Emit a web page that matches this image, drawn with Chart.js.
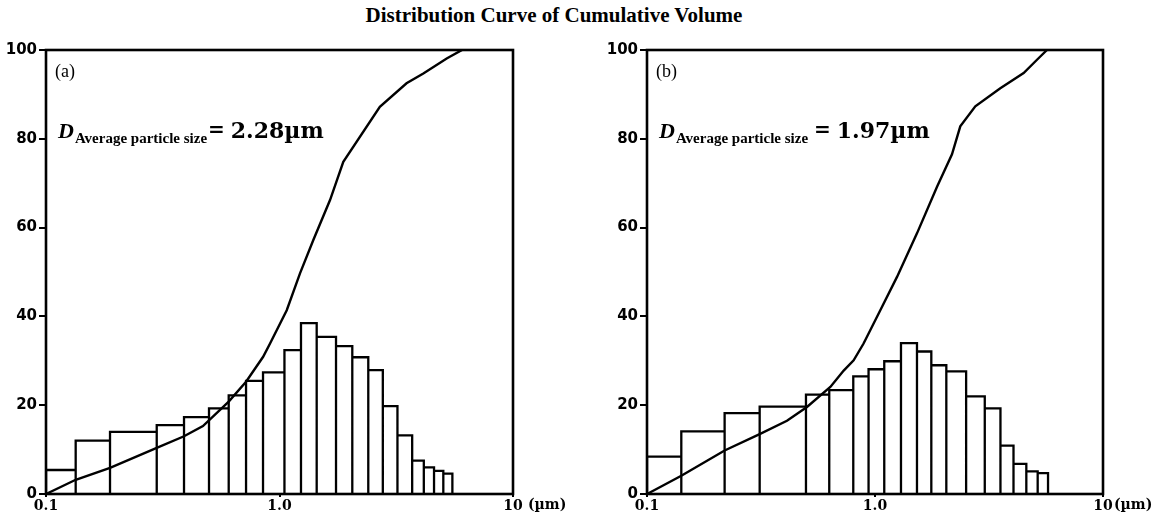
<!DOCTYPE html>
<html>
<head>
<meta charset="utf-8">
<script src="https://cdn.jsdelivr.net/npm/chart.js@4"></script>
<style>
  body { margin: 0; background: #fff; }
  #wrap { position: relative; width: 1163px; height: 519px; overflow: hidden; }
  #title { position: absolute; left: 0; top: 3px; width: 1108px; text-align: center;
           font: bold 21px "Liberation Serif", serif; color: #000; }
  .panel { position: absolute; top: 0; }
</style>
</head>
<body>
<div id="wrap">
  <div id="title">Distribution Curve of Cumulative Volume</div>
  <canvas id="chartA" class="panel" style="left:0px" width="580" height="519"></canvas>
  <canvas id="chartB" class="panel" style="left:580px" width="583" height="519"></canvas>
</div>
<script>
// tick values
const yTicks = [0, 20, 40, 60, 80, 100];
const xTicks = [0.1, 1, 10];
const xTickLabels = ['0.1', '1.0', '10'];

// panel (a): bar edges (um), bar heights, cumulative curve
const edgesA = [0.1, 0.134, 0.188, 0.298, 0.39, 0.499, 0.606, 0.719, 0.85, 1.05, 1.236, 1.443, 1.746, 2.05, 2.4, 2.77, 3.2, 3.7, 4.15, 4.59, 5.03, 5.5];
const heightsA = [5.4, 12.0, 14.0, 15.5, 17.3, 19.3, 22.2, 25.5, 27.4, 32.4, 38.5, 35.4, 33.3, 30.8, 27.9, 19.8, 13.2, 7.5, 6.0, 5.2, 4.6];
const curveXA = [0.1, 0.134, 0.188, 0.298, 0.39, 0.47, 0.606, 0.719, 0.851, 0.911, 1.074, 1.224, 1.396, 1.646, 1.876, 2.69, 3.5, 4.13, 5.2, 6.05];
const curveYA = [0, 3.2, 5.9, 10.4, 13.0, 15.3, 20.8, 25.3, 30.9, 33.9, 41.4, 49.7, 57.2, 66.2, 74.8, 87.2, 92.5, 94.7, 98.1, 100];

// panel (b)
const edgesB = [0.1, 0.1414, 0.219, 0.312, 0.498, 0.63, 0.803, 0.937, 1.098, 1.3, 1.528, 1.766, 2.055, 2.51, 3.03, 3.55, 4.05, 4.61, 5.17, 5.74];
const heightsB = [8.4, 14.1, 18.2, 19.7, 22.4, 23.4, 26.5, 28.1, 29.9, 34.0, 32.1, 29.0, 27.6, 22.0, 19.3, 10.9, 6.8, 5.1, 4.7];
const curveXB = [0.1, 0.1414, 0.219, 0.312, 0.411, 0.503, 0.637, 0.729, 0.806, 0.891, 1.055, 1.249, 1.528, 1.871, 2.176, 2.366, 2.754, 3.545, 4.486, 5.135, 5.68];
const curveYB = [0, 4.1, 9.8, 13.5, 16.5, 19.6, 24.1, 27.8, 30.1, 33.9, 41.4, 48.9, 58.7, 69.2, 76.5, 82.8, 87.3, 91.4, 94.8, 97.8, 100];

// outline of the histogram as one stepped path
function barOutline(edges, heights) {
    const pts = [{ x: edges[0], y: 0 }];
    heights.forEach((h, i) => {
        pts.push({ x: edges[i], y: h });
        pts.push({ x: edges[i + 1], y: h });
        pts.push({ x: edges[i + 1], y: 0 });
    });
    return pts;
}

function curvePoints(xs, ys) {
    return xs.map((x, i) => ({ x: x, y: ys[i] }));
}

// frame + text labels inside the plot
const panelText = {
    id: 'panelText',
    afterDraw(chart, args, opts) {
        const { ctx, chartArea } = chart;
        const { left, top, right, bottom } = chartArea;
        ctx.save();
        ctx.strokeStyle = '#000';
        ctx.lineWidth = 2.6;
        ctx.strokeRect(left, top, right - left, bottom - top);

        ctx.fillStyle = '#000';
        ctx.textBaseline = 'alphabetic';
        ctx.font = '18px "Liberation Serif"';
        ctx.fillText(opts.tag, left + 9, top + 27);

        let x = left + 12;
        const base = top + 88;
        ctx.font = 'italic bold 22px "Liberation Serif"';
        ctx.fillText('D', x, base);
        x += ctx.measureText('D').width + 1;
        ctx.font = 'bold 15px "Liberation Serif"';
        ctx.fillText('Average particle size', x, base + 5);
        x += ctx.measureText('Average particle size').width + opts.gap;
        ctx.font = 'bold 20px "DejaVu Serif"';
        ctx.fillText('=', x, base - 2);
        x += ctx.measureText('= ').width - 1;
        ctx.font = 'bold 22px "DejaVu Serif"';
        ctx.fillText(opts.value, x, base);

        // unit after the last x tick
        ctx.font = 'bold 14px "DejaVu Serif"';
        ctx.textBaseline = 'top';
        ctx.fillText('(\u00b5m)', right + opts.unitGap, bottom + 4);
        ctx.restore();
    }
};

function makeChart(id, edges, heights, cx, cy, yWidth, padRight, tag, value, gap, unitGap) {
    const ctx = document.getElementById(id);
    return new Chart(ctx, {
        type: 'line',
        data: {
            datasets: [{
                data: barOutline(edges, heights),
                borderColor: '#000',
                borderWidth: 2.3,
                pointRadius: 0,
                tension: 0,
                borderJoinStyle: 'miter'
            }, {
                data: curvePoints(cx, cy),
                borderColor: '#000',
                borderWidth: 2.4,
                pointRadius: 0,
                tension: 0
            }]
        },
        options: {
            responsive: false,
            animation: false,
            layout: { padding: { top: 50, right: padRight, bottom: 0, left: 0 } },
            plugins: {
                legend: { display: false },
                tooltip: { enabled: false },
                panelText: { tag: tag, value: value, gap: gap, unitGap: unitGap }
            },
            scales: {
                x: {
                    type: 'logarithmic',
                    min: 0.1,
                    max: 10,
                    afterBuildTicks: s => { s.ticks = xTicks.map(v => ({ value: v })); },
                    afterFit: s => { s.height = 25; },
                    border: { display: false },
                    grid: { drawOnChartArea: false, drawTicks: true, tickLength: 3, color: '#000', lineWidth: 2 },
                    ticks: {
                        autoSkip: false,
                        maxRotation: 0,
                        padding: 1,
                        color: '#000',
                        font: { family: 'DejaVu Serif', size: 14, weight: 'bold' },
                        callback: (v, i) => xTickLabels[i]
                    }
                },
                y: {
                    min: 0,
                    max: 100,
                    afterBuildTicks: s => { s.ticks = yTicks.map(v => ({ value: v })); },
                    afterFit: s => { s.width = yWidth; },
                    border: { display: false },
                    grid: { drawOnChartArea: false, drawTicks: true, tickLength: 7, color: '#000', lineWidth: 2 },
                    ticks: {
                        padding: 2,
                        color: '#000',
                        font: { family: 'DejaVu Sans', size: 15, weight: 'bold' }
                    }
                }
            }
        },
        plugins: [panelText]
    });
}

makeChart('chartA', edgesA, heightsA, curveXA, curveYA, 46, 67, '(a)', '2.28\u00b5m', 1, 15);
makeChart('chartB', edgesB, heightsB, curveXB, curveYB, 67, 60, '(b)', '1.97\u00b5m', 6, 11);
</script>
</body>
</html>
